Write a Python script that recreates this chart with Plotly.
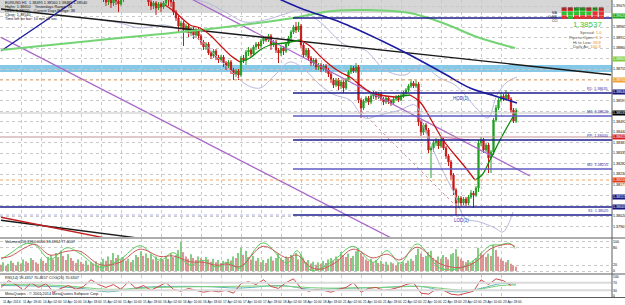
import plotly.graph_objects as go

# ------------------------------------------------------------------ data
first_bar = 41
first_open = 1.39140
closes = [1.39120, 1.39090, 1.39110, 1.39085, 1.39115, 1.39095, 1.39080, 1.39105, 1.39130, 1.39150,
          1.39170, 1.39190, 1.39180, 1.39200, 1.39185, 1.39165, 1.39145, 1.39125,
          1.39090, 1.39070, 1.39085, 1.39060, 1.39080, 1.39065, 1.39085, 1.39105, 1.39100, 1.39090,
          1.39040, 1.39010, 1.38970, 1.38985, 1.38950, 1.38970, 1.38935, 1.38955, 1.38925, 1.38950, 1.38920,
          1.38890, 1.38865, 1.38880, 1.38835, 1.38820, 1.38845, 1.38815, 1.38800, 1.38815, 1.38785, 1.38770,
          1.38790, 1.38750, 1.38730, 1.38745, 1.38725,
          1.38810, 1.38800, 1.38840, 1.38850, 1.38830, 1.38865, 1.38880, 1.38870, 1.38895, 1.38910, 1.38900,
          1.38920, 1.38875, 1.38890, 1.38850, 1.38835, 1.38860, 1.38845, 1.38880, 1.38910, 1.38940, 1.38965,
          1.38950, 1.38970,
          1.38875, 1.38825, 1.38850, 1.38810, 1.38785, 1.38800, 1.38765, 1.38775, 1.38755, 1.38770, 1.38750,
          1.38730, 1.38700, 1.38675, 1.38700, 1.38670, 1.38690, 1.38660, 1.38700, 1.38740, 1.38760, 1.38745,
          1.38765,
          1.38600, 1.38560, 1.38595, 1.38610, 1.38590, 1.38620, 1.38635, 1.38615, 1.38630, 1.38605, 1.38590,
          1.38610, 1.38595, 1.38585, 1.38605, 1.38615, 1.38600, 1.38620, 1.38635, 1.38650, 1.38670, 1.38685,
          1.38670, 1.38680,
          1.38490, 1.38440, 1.38475, 1.38450, 1.38350, 1.38360, 1.38385, 1.38395, 1.38370, 1.38400, 1.38360,
          1.38320, 1.38290, 1.38225, 1.38150, 1.38085, 1.38110, 1.38085, 1.38105, 1.38085, 1.38115, 1.38135,
          1.38125, 1.38160, 1.38385, 1.38400, 1.38350, 1.38375, 1.38310, 1.38340, 1.38500, 1.38560, 1.38600,
          1.38620, 1.38605, 1.38625, 1.38605, 1.38550, 1.38495, 1.38540]
highs = [1.39155, 1.39130, 1.39125, 1.39120, 1.39125, 1.39125, 1.39105, 1.39115, 1.39140, 1.39165,
         1.39180, 1.39205, 1.39200, 1.39215, 1.39210, 1.39195, 1.39175, 1.39155,
         1.39135, 1.39100, 1.39095, 1.39095, 1.39090, 1.39090, 1.39095, 1.39115, 1.39115, 1.39110,
         1.39100, 1.39050, 1.39020, 1.38995, 1.38995, 1.38980, 1.38980, 1.38965, 1.38965, 1.38960, 1.38960,
         1.38930, 1.38900, 1.38890, 1.38890, 1.38845, 1.38855, 1.38855, 1.38825, 1.38825, 1.38825, 1.38795,
         1.38800, 1.38800, 1.38760, 1.38755, 1.38755,
         1.38820, 1.38825, 1.38850, 1.38865, 1.38860, 1.38875, 1.38890, 1.38890, 1.38905, 1.38920, 1.38920,
         1.38930, 1.38930, 1.38900, 1.38900, 1.38860, 1.38870, 1.38870, 1.38890, 1.38920, 1.38950, 1.38975,
         1.38990, 1.38990,
         1.38980, 1.38885, 1.38860, 1.38860, 1.38820, 1.38810, 1.38810, 1.38785, 1.38785, 1.38780, 1.38780,
         1.38760, 1.38740, 1.38710, 1.38710, 1.38710, 1.38700, 1.38700, 1.38710, 1.38750, 1.38775, 1.38770,
         1.38785,
         1.38775, 1.38610, 1.38605, 1.38620, 1.38620, 1.38630, 1.38645, 1.38645, 1.38640, 1.38640, 1.38615,
         1.38620, 1.38620, 1.38605, 1.38615, 1.38625, 1.38625, 1.38630, 1.38645, 1.38660, 1.38680, 1.38705,
         1.38695, 1.38700,
         1.38690, 1.38500, 1.38485, 1.38485, 1.38460, 1.38370, 1.38400, 1.38410, 1.38405, 1.38415, 1.38410,
         1.38370, 1.38330, 1.38300, 1.38235, 1.38160, 1.38120, 1.38120, 1.38115, 1.38115, 1.38125, 1.38150,
         1.38145, 1.38170, 1.38400, 1.38415, 1.38410, 1.38385, 1.38385, 1.38350, 1.38510, 1.38575, 1.38610,
         1.38635, 1.38630, 1.38650, 1.38635, 1.38615, 1.38560, 1.38560]
lows = [1.39090, 1.39070, 1.39075, 1.39060, 1.39070, 1.39075, 1.39040, 1.39070, 1.39090, 1.39120,
        1.39140, 1.39160, 1.39165, 1.39170, 1.39170, 1.39150, 1.39130, 1.39105,
        1.39070, 1.39050, 1.39055, 1.39025, 1.39050, 1.39040, 1.39055, 1.39075, 1.39070, 1.39065,
        1.39025, 1.38995, 1.38940, 1.38955, 1.38870, 1.38940, 1.38915, 1.38920, 1.38905, 1.38910, 1.38900,
        1.38875, 1.38850, 1.38850, 1.38825, 1.38805, 1.38810, 1.38800, 1.38785, 1.38790, 1.38765, 1.38750,
        1.38760, 1.38730, 1.38700, 1.38715, 1.38700,
        1.38715, 1.38785, 1.38775, 1.38820, 1.38815, 1.38820, 1.38850, 1.38855, 1.38860, 1.38880, 1.38890,
        1.38890, 1.38850, 1.38865, 1.38835, 1.38785, 1.38820, 1.38825, 1.38835, 1.38870, 1.38900, 1.38930,
        1.38935, 1.38940,
        1.38860, 1.38810, 1.38815, 1.38795, 1.38770, 1.38770, 1.38750, 1.38750, 1.38740, 1.38745, 1.38735,
        1.38715, 1.38685, 1.38660, 1.38665, 1.38650, 1.38655, 1.38635, 1.38650, 1.38690, 1.38730, 1.38735,
        1.38735,
        1.38585, 1.38510, 1.38550, 1.38585, 1.38575, 1.38580, 1.38605, 1.38600, 1.38605, 1.38595, 1.38575,
        1.38580, 1.38580, 1.38570, 1.38575, 1.38595, 1.38590, 1.38595, 1.38610, 1.38625, 1.38640, 1.38660,
        1.38660, 1.38660,
        1.38470, 1.38420, 1.38425, 1.38435, 1.38335, 1.38210, 1.38340, 1.38370, 1.38355, 1.38360, 1.38350,
        1.38305, 1.38270, 1.38200, 1.38125, 1.38025, 1.38060, 1.38070, 1.38075, 1.38070, 1.38075, 1.38105,
        1.38060, 1.38115, 1.38140, 1.38370, 1.38335, 1.38340, 1.38235, 1.38235, 1.38325, 1.38490, 1.38550,
        1.38590, 1.38595, 1.38600, 1.38595, 1.38535, 1.38485, 1.38485]

# tick volume (scaled to the lower panel) for every bar from the left edge
volume = [22, 30, 18, 25, 35, 28, 20, 32, 26, 40,
          34, 28, 45, 38, 30, 25, 42, 35, 28, 48,
          55, 40, 62, 48, 70, 52, 38, 58, 45, 35,
          28, 40, 32, 25, 36, 22, 30, 26, 34, 20,
          30, 42, 35, 50, 38, 62, 45, 55, 40, 48,
          35, 42, 30, 38, 55, 48, 68, 52, 60, 45,
          58, 40, 50, 35, 45, 38, 52, 42, 60, 48,
          55, 72, 100, 65, 50, 42, 58, 45, 38, 50,
          44, 36, 48, 40, 32, 42, 30, 38, 28, 35,
          30, 42, 36, 50, 45, 62, 80, 55, 70, 48,
          40, 52, 35, 45, 30, 38, 28, 42, 50, 36,
          45, 60, 42, 38, 50, 44, 55, 48, 62, 40,
          58, 45, 30, 38, 26, 32, 22, 30, 25, 35,
          28, 40, 45, 35, 50, 42, 65, 55, 48, 60,
          45, 52, 68, 80, 62, 50, 40, 35, 42, 30,
          38, 28, 35, 25, 32, 22, 30, 26, 20, 28,
          24, 32, 28, 36, 42, 35, 55, 77, 60, 48,
          52, 65, 70, 45, 38, 50, 42, 55, 48, 40,
          58, 62, 75, 50, 42, 35, 30, 38, 28, 35,
          45, 80, 62, 55, 48, 60, 52, 90, 72, 50,
          42, 35, 30, 38, 25, 20, 15]

stoch_bars = [0, 3.6, 9.6, 13.6, 19.6, 26.4, 31.6, 39.6, 47.6, 55.6, 63.6, 68.8, 75.6, 80.8, 86.4,
              90.4, 95.6, 104.8, 114.4, 118.4, 123.6, 127.6, 133.6, 140.8, 148.8, 154.4, 159.6,
              166.4, 175.6, 183.6, 189.6, 195.6, 199.6, 203.6, 205.6]
stoch_main = [40, 60, 93, 90, 40, 80, 60, 13, 40, 87, 37, 63, 20, 37, 13,
              30, 10, 97, 27, 70, 3, 8, 40, 85, 30, 70, 27,
              93, 10, 10, 40, 87, 90, 95, 77]
stoch_signal = [45, 50, 80, 92, 55, 68, 68, 22, 30, 75, 50, 52, 32, 30, 20,
                24, 15, 85, 45, 55, 15, 6, 28, 75, 45, 58, 38,
                82, 25, 12, 30, 75, 88, 92, 84]

rsi_step = 3
rsi = [45, 80, 60, 30, 70, 45, 65, 20, 40, 55, 35, 50, 85, 60, 45, 60, 35, 75, 40, 55,
       30, 50, 70, 35, 25, 40, 30, 20, 28, 22, 30, 15, 65, 75, 60, 85, 50, 40, 70, 90,
       40, 25, 35, 30, 20, 35, 45, 70, 20, 40, 45, 30, 35, 45, 60, 70, 15, 10, 35, 30,
       10, 5, 15, 25, 85, 60, 90, 80, 55]
rsi_ma_bars = [0, 20, 32, 43, 56, 80, 96, 112, 124, 136, 152, 168, 176, 184, 192, 200, 206]
rsi_ma_fast = [55, 50, 40, 22, 45, 50, 42, 55, 35, 40, 45, 50, 30, 22, 40, 65, 62]
rsi_ma_slow_bars = [0, 24, 43, 64, 88, 112, 128, 152, 168, 180, 188, 200, 206]
rsi_ma_slow = [60, 55, 35, 45, 50, 52, 42, 45, 50, 35, 30, 55, 58]

# indicator lines on the price panel (bar index, price)
ma_slow_bars = [0, 39.6, 79.6, 111.6, 132.8, 146.4, 163.6, 176.8, 190.4, 205.6]
ma_slow = [1.38850, 1.38900, 1.38950, 1.39000, 1.39045, 1.39050, 1.39035, 1.38985, 1.38915, 1.38860]
ma_mid_bars = [103.6, 119.6, 135.6, 151.6, 163.6, 176.8, 187.6, 197.6, 206.4]
ma_mid = [1.39150, 1.39060, 1.38990, 1.38900, 1.38825, 1.38735, 1.38660, 1.38620, 1.38585]
ma_fast_bars = [65.6, 69.6, 75.6, 79.6, 83.6, 87.6, 91.6, 95.6, 99.6, 103.6, 107.6, 113.6, 119.6,
                123.6, 127.6, 131.6, 135.6, 139.6, 143.6, 147.6, 151.6, 157.6, 163.6, 167.6, 172.8,
                176.8, 181.6, 185.6, 189.6, 192.4, 195.6, 199.6, 203.6, 206.4]
ma_fast = [1.39075, 1.39040, 1.38975, 1.38960, 1.38925, 1.38875, 1.38825, 1.38790, 1.38810, 1.38850,
           1.38875, 1.38885, 1.38900, 1.38870, 1.38820, 1.38775, 1.38740, 1.38715, 1.38675, 1.38640,
           1.38625, 1.38615, 1.38625, 1.38590, 1.38485, 1.38400, 1.38325, 1.38265, 1.38200, 1.38225,
           1.38300, 1.38400, 1.38490, 1.38550]
bb_upper_bars = [39.6, 59.6, 71.6, 81.6, 89.6, 97.6, 105.6, 113.6, 119.6, 127.6, 137.6, 145.6, 153.6,
                 161.6, 167.6, 175.6, 181.6, 185.6, 190.8, 194.8, 198.4, 202.4, 206.4]
bb_upper = [1.39140, 1.39125, 1.39110, 1.39090, 1.39040, 1.38990, 1.39000, 1.39030, 1.39050, 1.38990,
            1.38875, 1.38850, 1.38750, 1.38725, 1.38775, 1.38710, 1.38675, 1.38625, 1.38550, 1.38510,
            1.38625, 1.38690, 1.38715]
bb_lower_bars = [39.6, 47.6, 55.6, 65.6, 73.6, 79.6, 86.4, 92.8, 98.4, 103.6, 109.6, 115.6, 121.6,
                 127.6, 133.6, 139.6, 145.6, 151.6, 159.6, 165.6, 169.6, 175.6, 181.6, 185.6, 191.6,
                 197.6, 200.8, 204.8]
bb_lower = [1.39000, 1.38985, 1.38960, 1.38975, 1.38940, 1.38900, 1.38815, 1.38735, 1.38675, 1.38660,
            1.38725, 1.38790, 1.38750, 1.38675, 1.38625, 1.38600, 1.38510, 1.38525, 1.38550, 1.38575,
            1.38450, 1.38275, 1.38125, 1.38010, 1.37990, 1.37960, 1.37940, 1.38040]

# trend lines: (bar, price) end points
trend_black = ([0, 244], [1.39055, 1.38726])
trend_navy = ([0, 40], [1.38845, 1.39185])
channel_low = ([0, 160], [1.38913, 1.37885])
channel_high = ([40, 211.6], [1.39342, 1.38220])
trend_black_low = ([0, 59.6], [1.37999, 1.37902])
trend_red_low = ([0, 47.6], [1.38014, 1.37895])
fib_dotted = ([144.4, 181.6], [1.38540, 1.38075])
pink_seg = ([175.6, 187.6], [1.38415, 1.38400])

# horizontal levels
zone_grey = (1.39035, 1.39200)
zone_blue = (1.38740, 1.38775)
level_orange = [1.38700, 1.38200]
level_bid = 1.38535
level_rose = 1.38415
level_navy_full = 1.38065
pivot_start = 116.8
pivot_navy = {"R2": 1.39010, "R1": 1.38635, "PP": 1.38400, "S1": 1.38025}
pivot_mid = {"M3": 1.38520, "M2": 1.38255}
pivot_text = {1.38635: "R1: 1.38635", 1.38520: "M3: 1.38520", 1.38400: "PP: 1.38400",
              1.38255: "M2: 1.38255", 1.38025: "S1: 1.38025"}
axis_tags = [(1.39020, "#1faa1f"), (1.38805, "#7ccc3c"), (1.38700, "#f0a030"), (1.38640, "#14147a"),
             (1.38535, "#000000"), (1.38415, "#d42020"), (1.38200, "#e23a10"), (1.38115, "#14147a"),
             (1.38065, "#14147a")]
price_tick0 = 1.39070
price_tick_step = 0.000525

date_tick_step = 8
date_labels = ["11 Apr 2014", "11 Apr 18:00", "14 Apr 02:00", "14 Apr 10:00", "14 Apr 18:00",
               "15 Apr 02:00", "15 Apr 10:00", "15 Apr 18:00", "16 Apr 02:00", "16 Apr 10:00",
               "16 Apr 18:00", "17 Apr 02:00", "17 Apr 10:00", "17 Apr 18:00", "18 Apr 02:00",
               "18 Apr 10:00", "18 Apr 18:00", "21 Apr 02:00", "21 Apr 10:00", "21 Apr 18:00",
               "22 Apr 02:00", "22 Apr 10:00", "22 Apr 18:00", "23 Apr 02:00", "23 Apr 10:00",
               "23 Apr 18:00"]

info_lines = ["EURUSD,H1  1.38495 1.38560 1.38485 1.38540",
              "Highs: 1.38650    Yesterdays Range: 74",
              "Lows: 1.38050    Current Days Range: 38",
              "Close: 1.38540",
              "Time left for bar: 10 min 51 sec"]
tf_names = ["M1", "M5", "M15", "M30", "H1", "H4", "D1"]
tf_rows = {"MA": ["r", "r", "g", "g", "r", "g", "r"],
           "OsMA": ["g", "g", "g", "g", "g", "r", "r"],
           "CCI": ["r", "g", "r", "r", "r", "r", "r"]}
price_now = "1.38537"
stats = [("Spread: ", "1.0"), ("Pips to Open: ", "3.1"), ("Hi to Low: ", "38.8"), ("Daily Av: ", "100.9")]

# ------------------------------------------------------------------ layout constants
W, H = 625, 305
X_END = 612 / W
FONT = "Liberation Sans"
xr = [-0.4, 244.4]
ymain = [1.37915, 1.39100]


def py(p):
    return 1 - p / H


fig = go.Figure()

# zones
fig.add_shape(type="rect", xref="x domain", yref="y", x0=0, x1=1, y0=zone_grey[0], y1=zone_grey[1],
              fillcolor="#d6d6d6", line_width=0, layer="below")
fig.add_shape(type="rect", xref="x domain", yref="y", x0=0, x1=1, y0=zone_blue[0], y1=zone_blue[1],
              fillcolor="#86c8e8", line_width=0, layer="below")

# levels
for lv in level_orange:
    fig.add_shape(type="line", xref="x domain", yref="y", x0=0, x1=1, y0=lv, y1=lv,
                  line=dict(color="#f2a868", width=1.2, dash="dot"))
fig.add_shape(type="line", xref="x domain", yref="y", x0=0, x1=1, y0=level_bid, y1=level_bid,
              line=dict(color="#c4c4c4", width=1))
fig.add_shape(type="line", xref="x domain", yref="y", x0=0, x1=1, y0=level_rose, y1=level_rose,
              line=dict(color="#c49494", width=1.2))
fig.add_shape(type="line", xref="x domain", yref="y", x0=0, x1=1, y0=level_navy_full, y1=level_navy_full,
              line=dict(color="#1c1c8c", width=1.3))
fig.add_shape(type="line", xref="x", yref="y", x0=xr[0], x1=pivot_start,
              y0=pivot_navy["S1"], y1=pivot_navy["S1"], line=dict(color="#9a9ad8", width=0.8, dash="dot"))
for name, lv in pivot_navy.items():
    fig.add_shape(type="line", xref="x", yref="y", x0=pivot_start, x1=xr[1], y0=lv, y1=lv,
                  line=dict(color="#1c1c8c", width=1.3))
for name, lv in pivot_mid.items():
    fig.add_shape(type="line", xref="x", yref="y", x0=pivot_start, x1=xr[1], y0=lv, y1=lv,
                  line=dict(color="#5c5cc4", width=1.3))


def line(xs, ys, color, width=1, dash=None, shape="linear", ax=""):
    fig.add_trace(go.Scatter(x=xs, y=ys, mode="lines", xaxis="x" + ax, yaxis="y" + ax,
                             line=dict(color=color, width=width, dash=dash, shape=shape),
                             hoverinfo="skip", showlegend=False))


# bollinger bands
line(bb_upper_bars, bb_upper, "#b8b8dc", 1, shape="spline")
line(bb_lower_bars, bb_lower, "#b8b8dc", 1, shape="spline")
# trend lines
line(*channel_low, "#a968c8", 1.3)
line(*channel_high, "#a968c8", 1.3)
line(*trend_black, "#1a1a1a", 1.4)
line(*trend_navy, "#2020a0", 1.4)
line(*trend_black_low, "#1a1a1a", 1.4)
line(*trend_red_low, "#c02020", 1.4)
line(*fib_dotted, "#d09a9a", 1, dash="dot")
line(*pink_seg, "#e070c0", 1)
# moving averages
line(ma_slow_bars, ma_slow, "#74d474", 2, shape="spline")
line(ma_mid_bars, ma_mid, "#1c1ca0", 1.6, shape="spline")

# fast MA coloured by slope: green rising, red falling
seg_x, seg_y, seg_up = [ma_fast_bars[0]], [ma_fast[0]], ma_fast[1] > ma_fast[0]
for k in range(1, len(ma_fast)):
    up = ma_fast[k] > ma_fast[k - 1]
    if up != seg_up:
        line(seg_x, seg_y, "#0a8a0a" if seg_up else "#c81010", 1.3, shape="spline")
        seg_x, seg_y = [seg_x[-1]], [seg_y[-1]]
        seg_up = up
    seg_x.append(ma_fast_bars[k])
    seg_y.append(ma_fast[k])
line(seg_x, seg_y, "#0a8a0a" if seg_up else "#c81010", 1.3, shape="spline")

# candles
bars = list(range(first_bar, first_bar + len(closes)))
opens = [first_open] + closes[:-1]
fig.add_trace(go.Candlestick(x=bars, open=opens, high=highs, low=lows, close=closes,
                             increasing=dict(line=dict(color="#22a022", width=1), fillcolor="#22a022"),
                             decreasing=dict(line=dict(color="#c81818", width=1), fillcolor="#c81818"),
                             whiskerwidth=0, hoverinfo="skip", showlegend=False))

# volume panel
vol_bars = list(range(len(volume)))
vol_col = ["#86cc86" if k > 0 and volume[k] >= volume[k - 1] else "#dc9494" for k in vol_bars]
fig.add_trace(go.Bar(x=vol_bars, y=volume, xaxis="x2", yaxis="y2", marker_color=vol_col,
                     marker_line_width=0, width=0.45, hoverinfo="skip", showlegend=False))
line(stoch_bars, stoch_main, "#5ccc5c", 1, shape="spline", ax="2")
line(stoch_bars, stoch_signal, "#cc5a5a", 1, shape="spline", ax="2")

# oscillator panel
for lv in (70, 30):
    fig.add_shape(type="line", xref="x3 domain", yref="y3", x0=0, x1=1, y0=lv, y1=lv,
                  line=dict(color="#dadada", width=2))
rsi_bars = [k * rsi_step for k in range(len(rsi))]
line(rsi_ma_bars, rsi_ma_fast, "#62b4b4", 1, shape="spline", ax="3")
line(rsi_ma_slow_bars, rsi_ma_slow, "#7cd07c", 1, shape="spline", ax="3")
line(rsi_bars, rsi, "#cc4a4a", 1, ax="3")

# ------------------------------------------------------------------ axes
# price ticks on the right, skipping those hidden behind a coloured tag
price_ticks = []
p = price_tick0
while p > ymain[0] + 0.0002:
    if all(abs(p - t) > 0.00022 for t, _ in axis_tags):
        price_ticks.append(round(p, 5))
    p -= price_tick_step
all_grid = []
p = price_tick0
while p > ymain[0]:
    all_grid.append(round(p, 5))
    p -= price_tick_step

grid = dict(showgrid=True, gridcolor="#c9c9c9", griddash="dot", gridwidth=1)
tickv = [k * date_tick_step for k in range(len(date_labels))]
xcommon = dict(range=xr, domain=[0, X_END], tickvals=tickv, ticktext=[""] * len(tickv),
               zeroline=False, showline=False, ticks="", **grid)
fig.update_layout(
    width=W, height=H, margin=dict(l=0, r=0, t=0, b=0),
    paper_bgcolor="white", plot_bgcolor="white", showlegend=False,
    font=dict(family=FONT, size=5, color="#000000"),
    xaxis=dict(anchor="y", rangeslider=dict(visible=False), **xcommon),
    xaxis2=dict(anchor="y2", matches="x", **xcommon),
    xaxis3=dict(anchor="y3", matches="x", **xcommon),
    yaxis=dict(domain=[1 - 237 / H, 1], range=ymain, side="right", tickvals=all_grid,
               ticktext=[f"{v:.5f}" if v in price_ticks else "" for v in all_grid],
               ticks="", zeroline=False, automargin=False, tickfont=dict(size=3.6), **grid),
    yaxis2=dict(domain=[1 - 273 / H, 1 - 239 / H], range=[-6.7, 110], side="right",
                tickvals=[0, 20, 80, 100], ticks="", zeroline=False, automargin=False,
                tickfont=dict(size=3.6), **grid),
    yaxis3=dict(domain=[1 - 297 / H, 1 - 275 / H], range=[-5, 110], side="right",
                tickvals=[0, 30, 70, 100], ticks="", zeroline=False, automargin=False,
                tickfont=dict(size=3.4), showgrid=False),
)

# panel frames / separators
for yy in (238, 274, 297.5):
    fig.add_shape(type="line", xref="paper", yref="paper", x0=0, x1=1, y0=py(yy), y1=py(yy),
                  line=dict(color="#5a5a5a", width=1))
fig.add_shape(type="line", xref="paper", yref="paper", x0=X_END, x1=X_END, y0=py(297.5), y1=1,
              line=dict(color="#5a5a5a", width=1))

ann = []
# date labels
for tv, lab in zip(tickv, date_labels):
    ann.append(dict(x=tv, xref="x3", y=py(301.5), yref="paper", text=lab, showarrow=False,
                    xanchor="left", yanchor="middle", font=dict(size=3.3, color="#222")))
# axis price tags
for lv, col in axis_tags:
    ann.append(dict(x=X_END + 0.0005, xref="paper", y=lv, yref="y", text=f"{lv:.5f}", showarrow=False,
                    xanchor="left", yanchor="middle", bgcolor=col, borderpad=0,
                    font=dict(size=3.6, color="white")))
# pivot texts
for lv, t in pivot_text.items():
    ann.append(dict(x=X_END - 0.004, xref="paper", y=lv, yref="y", text=t, showarrow=False,
                    xanchor="right", yanchor="bottom", font=dict(size=3.8, color="#3030b0")))
ann.append(dict(x=184, xref="x", y=1.38630, yref="y", text="HOD(1)", showarrow=False,
                xanchor="center", yanchor="top", font=dict(size=4.5, color="#3030b0")))
ann.append(dict(x=184, xref="x", y=1.38020, yref="y", text="LOD(1)", showarrow=False,
                xanchor="center", yanchor="top", font=dict(size=4.5, color="#3030b0")))
# info block
for k, t in enumerate(info_lines):
    ann.append(dict(x=0.004, xref="paper", y=py(2.5 + 4.2 * k), yref="paper", text=t, showarrow=False,
                    xanchor="left", yanchor="middle", font=dict(size=3.8, color="#111")))
# indicator labels
ann.append(dict(x=0.004, xref="paper", y=py(241.5), yref="paper",
                text="Volumes(20) 8960.0000 83.6934 77.4007", showarrow=False,
                xanchor="left", yanchor="middle", font=dict(size=3.8, color="#111")))
ann.append(dict(x=0.004, xref="paper", y=py(277.5), yref="paper",
                text="RSI(14) 59.4357 70.4657 COG(20) 70.6307", showarrow=False,
                xanchor="left", yanchor="middle", font=dict(size=3.8, color="#111")))
ann.append(dict(x=0.004, xref="paper", y=py(294), yref="paper",
                text="MetaQuotes - \u00a9 2001-2014 MetaQuotes Software Corp.", showarrow=False,
                xanchor="left", yanchor="middle", font=dict(size=3.8, color="#111")))

# timeframe table
cell_w, cell_h = 6.2 / W, 3.6 / H
tx0 = 561 / W
for c, nm in enumerate(tf_names):
    ann.append(dict(x=tx0 + (c + 0.5) * cell_w, xref="paper", y=py(5), yref="paper", text=nm,
                    showarrow=False, font=dict(size=3.2, color="#222"), xanchor="center"))
for r, (rn, cols) in enumerate(tf_rows.items()):
    ytop = py(7.5 + r * 3.9)
    ann.append(dict(x=tx0 - 0.002, xref="paper", y=ytop - cell_h / 2, yref="paper", text=rn,
                    showarrow=False, font=dict(size=3.2, color="#222"), xanchor="right"))
    for c, cc in enumerate(cols):
        fig.add_shape(type="rect", xref="paper", yref="paper",
                      x0=tx0 + c * cell_w + 0.0008, x1=tx0 + (c + 1) * cell_w - 0.0008,
                      y0=ytop - cell_h, y1=ytop,
                      fillcolor="#e23232" if cc == "r" else "#2fbf2f", line_width=0)
ann.append(dict(x=604 / W, xref="paper", y=py(25), yref="paper", text=price_now, showarrow=False,
                xanchor="right", yanchor="middle", font=dict(size=8, color="#3cc83c")))
for k, (lab, val) in enumerate(stats):
    ann.append(dict(x=604 / W, xref="paper", y=py(32.5 + 4.8 * k), yref="paper",
                    text=f"<span style='color:#555'>{lab}</span><span style='color:#e8902a'>{val}</span>",
                    showarrow=False, xanchor="right", yanchor="middle", font=dict(size=4.2)))

fig.update_layout(annotations=ann)
fig.write_html("out.html")
